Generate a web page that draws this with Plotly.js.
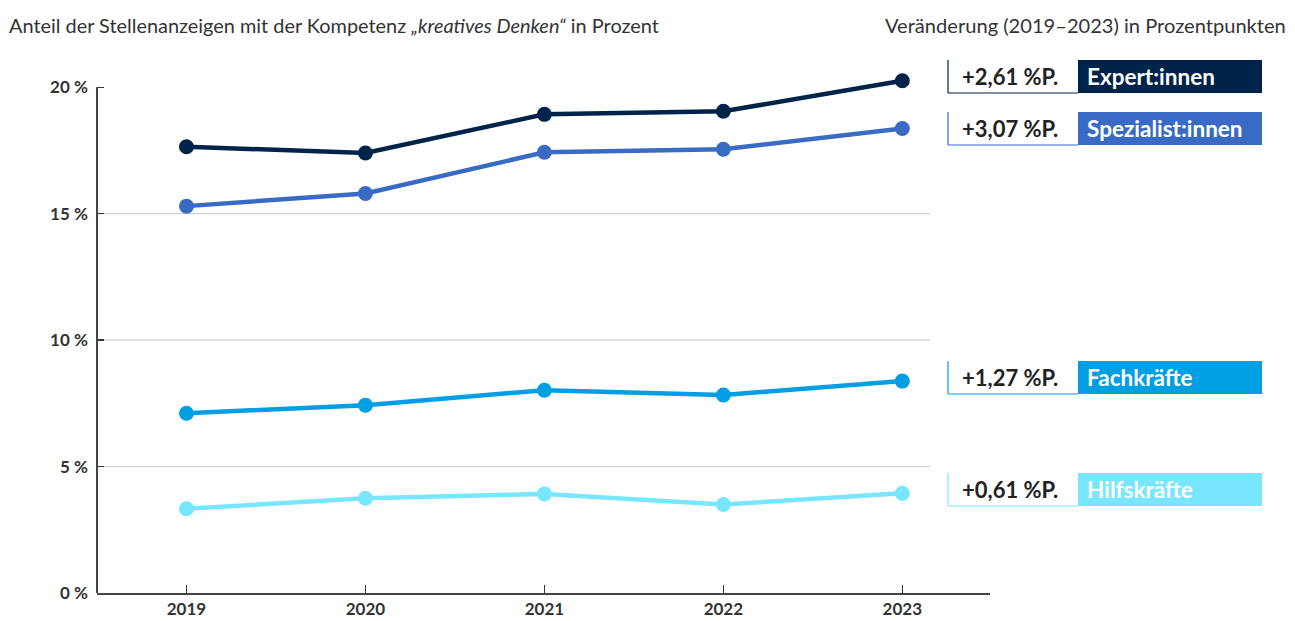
<!DOCTYPE html>
<html>
<head>
<meta charset="utf-8">
<script src="https://cdn.plot.ly/plotly-3.0.1.min.js"></script>
<style>html,body{margin:0;padding:0;background:#fff;}#chart{width:1295px;height:621px;}</style>
</head>
<body>
<div id="chart"></div>
<script>
const years = [2019, 2020, 2021, 2022, 2023];
const seriesNames = ["Expert:innen", "Spezialist:innen", "Fachkräfte", "Hilfskräfte"];
const expert = [17.65, 17.40, 18.93, 19.05, 20.26];
const spezialist = [15.30, 15.80, 17.43, 17.55, 18.37];
const fachkraefte = [7.11, 7.43, 8.02, 7.83, 8.38];
const hilfskraefte = [3.33, 3.75, 3.92, 3.50, 3.94];
const changes = ["+2,61 %P.", "+3,07 %P.", "+1,27 %P.", "+0,61 %P."];
const yTickVals = [0, 5, 10, 15, 20];
const yTickText = ["0 %", "5 %", "10 %", "15 %", "20 %"];
const gridVals = [5, 10, 15];

const colors = ["#00234a", "#3a6bc4", "#009ee3", "#77e6fe"];
const values = [expert, spezialist, fachkraefte, hilfskraefte];

const W = 1295, H = 621;
const mL = 97, mR = 305, mT = 62, mB = 28;
const pw = W - mL - mR, ph = H - mT - mB;
const pxX = p => (p - mL) / pw;
const pxY = p => (H - mB - p) / ph;

const traces = values.map((v, i) => ({
  x: years, y: v, type: 'scatter', mode: 'lines+markers',
  name: seriesNames[i],
  line: {color: colors[i], width: 4.5},
  marker: {color: colors[i], size: 15},
  hoverinfo: 'skip', cliponaxis: false
}));

const shapes = [];
const annotations = [];
gridVals.forEach(g => shapes.push({type: 'line', xref: 'paper', yref: 'y', x0: 0, x1: pxX(930), y0: g, y1: g, line: {color: '#c8c8c8', width: 1}, layer: 'below'}));
shapes.push({type: 'line', xref: 'paper', yref: 'y', x0: 0, x1: 0, y0: 0, y1: 20, line: {color: '#444', width: 2}});

const centers = [76.5, 128.5, 377.5, 489.5];
const boxH = 33;
centers.forEach((c, i) => {
  const top = c - boxH / 2, bot = c + boxH / 2;
  shapes.push({type: 'rect', xref: 'paper', yref: 'paper', x0: pxX(1078), x1: pxX(1262), y0: pxY(bot), y1: pxY(top), fillcolor: colors[i], line: {width: 0}});
  shapes.push({type: 'line', xref: 'paper', yref: 'paper', x0: pxX(948), x1: pxX(948), y0: pxY(bot), y1: pxY(top), line: {color: colors[i], width: 1.2}});
  shapes.push({type: 'line', xref: 'paper', yref: 'paper', x0: pxX(948), x1: pxX(1078), y0: pxY(bot), y1: pxY(bot), line: {color: colors[i], width: 1.2}});
  annotations.push({xref: 'paper', yref: 'paper', x: pxX(960), y: pxY(c), xanchor: 'left', yanchor: 'middle', showarrow: false, text: '<b>' + changes[i] + '</b>', font: {family: 'Lato', size: 22, color: '#222'}});
  annotations.push({xref: 'paper', yref: 'paper', x: pxX(1085), y: pxY(c), xanchor: 'left', yanchor: 'middle', showarrow: false, text: '<b>' + seriesNames[i] + '</b>', font: {family: 'Lato', size: 22.5, color: '#ffffff'}});
});

annotations.push({xref: 'paper', yref: 'paper', x: pxX(7), y: pxY(25), xanchor: 'left', yanchor: 'middle', showarrow: false,
  text: 'Anteil der Stellenanzeigen mit der Kompetenz <i>„kreatives Denken“</i> in Prozent', font: {family: 'Lato', size: 19.9, color: '#333'}});
annotations.push({xref: 'paper', yref: 'paper', x: pxX(1288), y: pxY(25), xanchor: 'right', yanchor: 'middle', showarrow: false,
  text: 'Veränderung (2019–2023) in Prozentpunkten', font: {family: 'Lato', size: 20.1, color: '#333'}});

const layout = {
  width: W, height: H,
  margin: {l: mL, r: mR, t: mT, b: mB, pad: 0},
  paper_bgcolor: '#fff', plot_bgcolor: '#fff',
  showlegend: false,
  font: {family: 'Lato', color: '#333'},
  xaxis: {
    range: [2018.5, 2023.49], tickvals: years, ticktext: years.map(String),
    ticks: 'inside', ticklen: 8, tickwidth: 1.5, tickcolor: '#333',
    showline: true, linecolor: '#444', linewidth: 2,
    showgrid: false, zeroline: false,
    tickfont: {family: 'Lato', size: 17, color: '#333', weight: 'bold'}
  },
  yaxis: {
    range: [0, 21], tickvals: yTickVals, ticktext: yTickText.map(t => t.replace(' ', '\u202f')),
    ticks: 'inside', ticklen: 7, tickwidth: 1.5, tickcolor: '#333',
    showline: false, showgrid: false, zeroline: false,
    ticklabelstandoff: 8,
    tickfont: {family: 'Lato', size: 17, color: '#333', weight: 'bold'}
  },
  shapes: shapes,
  annotations: annotations
};

Plotly.newPlot('chart', traces, layout, {displayModeBar: false, staticPlot: true});
</script>
</body>
</html>
